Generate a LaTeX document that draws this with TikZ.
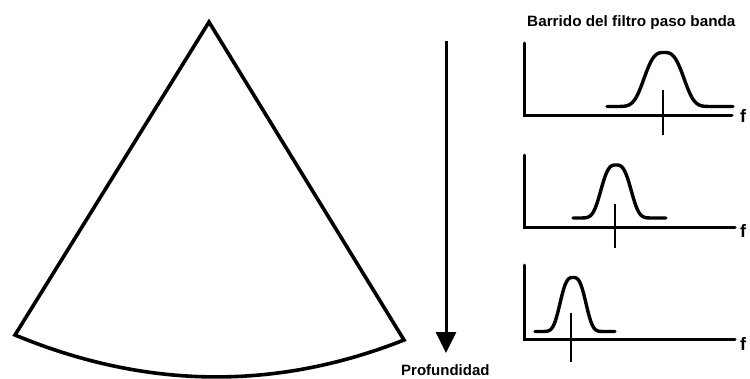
\documentclass[tikz,border=0pt]{standalone}
\usepackage{fontspec}
\setmainfont{Liberation Sans}
\usetikzlibrary{arrows.meta}
\begin{document}
\begin{tikzpicture}[x=1pt,y=-1pt,
  sector/.style={line width=3.6pt,line join=miter,line cap=round},
  axisline/.style={line width=3pt,line cap=round},
  bumpline/.style={line width=3.4pt,line cap=round,line join=round},
  tickline/.style={line width=2pt},
  lbl/.style={font=\bfseries\fontsize{15}{17}\selectfont,inner sep=0pt},
  flbl/.style={font=\bfseries\fontsize{18}{20}\selectfont,inner sep=0pt,anchor=base west}]
\useasboundingbox (0,0) rectangle (750,378);
% sector
\coordinate (apex) at (209,22);
\coordinate (sl) at (15,335);
\coordinate (sr) at (404,340);
\draw[sector] (sr) -- (apex) -- (sl) .. controls (145,389) and (275,391) .. (sr) -- cycle;
% depth arrow
\coordinate (atop) at (446,41);
\coordinate (abot) at (446,353);
\draw[line width=3pt,-{Triangle[width=20pt,length=21pt]}] (atop) -- (abot);
\node[lbl,anchor=base west] (prof) at (401,375) {Profundidad};
\node[lbl,anchor=base west] (title) at (527,26) {\scalebox{1.02}[1]{Barrido del filtro paso banda}};
% graph 1
\coordinate (g1o) at (524,115);
\draw[axisline] (524,43) -- (g1o) -- (732,115);
\draw[bumpline] plot[domain=607:733,samples=90,smooth] (\x,{106.5-54*exp(-min((abs(\x-664)/23)^3,15))});
\draw[tickline] (663,90) -- (663,135);
\node[flbl] (f1) at (740,122) {f};
% graph 2
\coordinate (g2o) at (524,227);
\draw[axisline] (524,155) -- (g2o) -- (735,227);
\draw[bumpline] plot[domain=573:666,samples=90,smooth] (\x,{218-53*exp(-min((abs(\x-616)/17.5)^3,15))});
\draw[tickline] (615,204) -- (615,248);
\node[flbl] (f2) at (740,237) {f};
% graph 3
\coordinate (g3o) at (524,339);
\draw[axisline] (524,265) -- (g3o) -- (735,339);
\draw[bumpline] plot[domain=535:615,samples=90,smooth] (\x,{331.5-54*exp(-min((abs(\x-573)/15)^3,15))});
\draw[tickline] (571,313) -- (571,362);
\node[flbl] (f3) at (740,350) {f};
\end{tikzpicture}
\end{document}
